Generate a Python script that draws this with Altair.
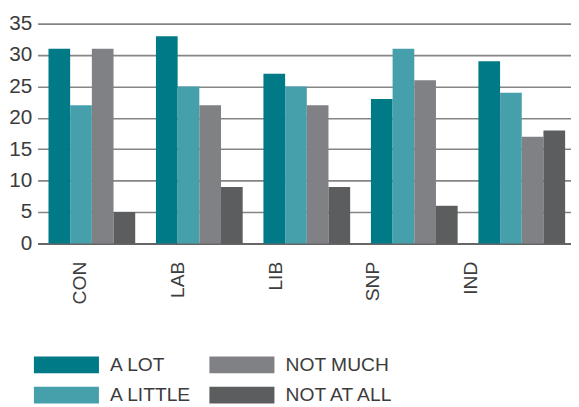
import altair as alt
import pandas as pd

parties = ["CON", "LAB", "LIB", "SNP", "IND"]
responses = ["A LOT", "A LITTLE", "NOT MUCH", "NOT AT ALL"]
a_lot = [31, 33, 27, 23, 29]
a_little = [22, 25, 25, 31, 24]
not_much = [31, 22, 22, 26, 17]
not_at_all = [5, 9, 9, 6, 18]

series = {"A LOT": a_lot, "A LITTLE": a_little, "NOT MUCH": not_much, "NOT AT ALL": not_at_all}
rows = []
for r in responses:
    for p, v in zip(parties, series[r]):
        rows.append({"party": p, "response": r, "value": v})
df = pd.DataFrame(rows)
cats = pd.DataFrame({"party": parties})

colors = ["#007a87", "#46a0ab", "#808184", "#5c5d5f"]

FONT = "Liberation Sans"
TXT = "#3c3c3c"

bars = alt.Chart(df).mark_bar().encode(
    x=alt.X("party:N", sort=parties, axis=None,
            scale=alt.Scale(paddingInner=0.193, paddingOuter=0.078, align=0.65)),
    xOffset=alt.XOffset("response:N", sort=responses, scale=alt.Scale(paddingInner=0, paddingOuter=0)),
    y=alt.Y("value:Q", scale=alt.Scale(domain=[0, 35], nice=False),
            axis=alt.Axis(values=[0, 5, 10, 15, 20, 25, 30, 35], title=None, domain=False, ticks=False,
                          labelFont=FONT, labelFontSize=21, labelColor=TXT, labelPadding=6,
                          grid=True, gridWidth=1.6,
                          gridColor=alt.condition("datum.value == 0", alt.value("#333333"), alt.value("#858585")))),
    color=alt.Color("response:N",
                    scale=alt.Scale(domain=responses, range=colors),
                    legend=alt.Legend(title=None, orient="none", legendX=19.5, legendY=336, columns=2,
                                      direction="vertical",
                                      symbolType="M-3.88,-1H3.88V1H-3.88Z", symbolSize=289,
                                      symbolStrokeWidth=0, symbolOpacity=1,
                                      labelFont=FONT, labelFontSize=19.5, labelColor=TXT,
                                      labelOffset=34.5, rowPadding=10, columnPadding=17, padding=0)),
)

labels = alt.Chart(cats).mark_point(opacity=0).encode(
    x=alt.X("party:N", sort=parties,
            scale=alt.Scale(type="point", range=[43, 439], padding=0),
            axis=alt.Axis(title=None, domain=False, ticks=False, labelAngle=270, labelAlign="right",
                          labelBaseline="middle", labelPadding=18, labelFont=FONT, labelFontSize=19.5,
                          labelColor=TXT)),
)

chart = alt.layer(bars, labels).resolve_scale(x="independent").properties(
    width=541, height=223,
    autosize=alt.AutoSizeParams(type="none"),
    padding={"left": 30, "top": 13, "right": 0, "bottom": 162},
).configure_view(stroke=None)

chart.save("out.html", embed_options={"renderer": "svg", "actions": False})
